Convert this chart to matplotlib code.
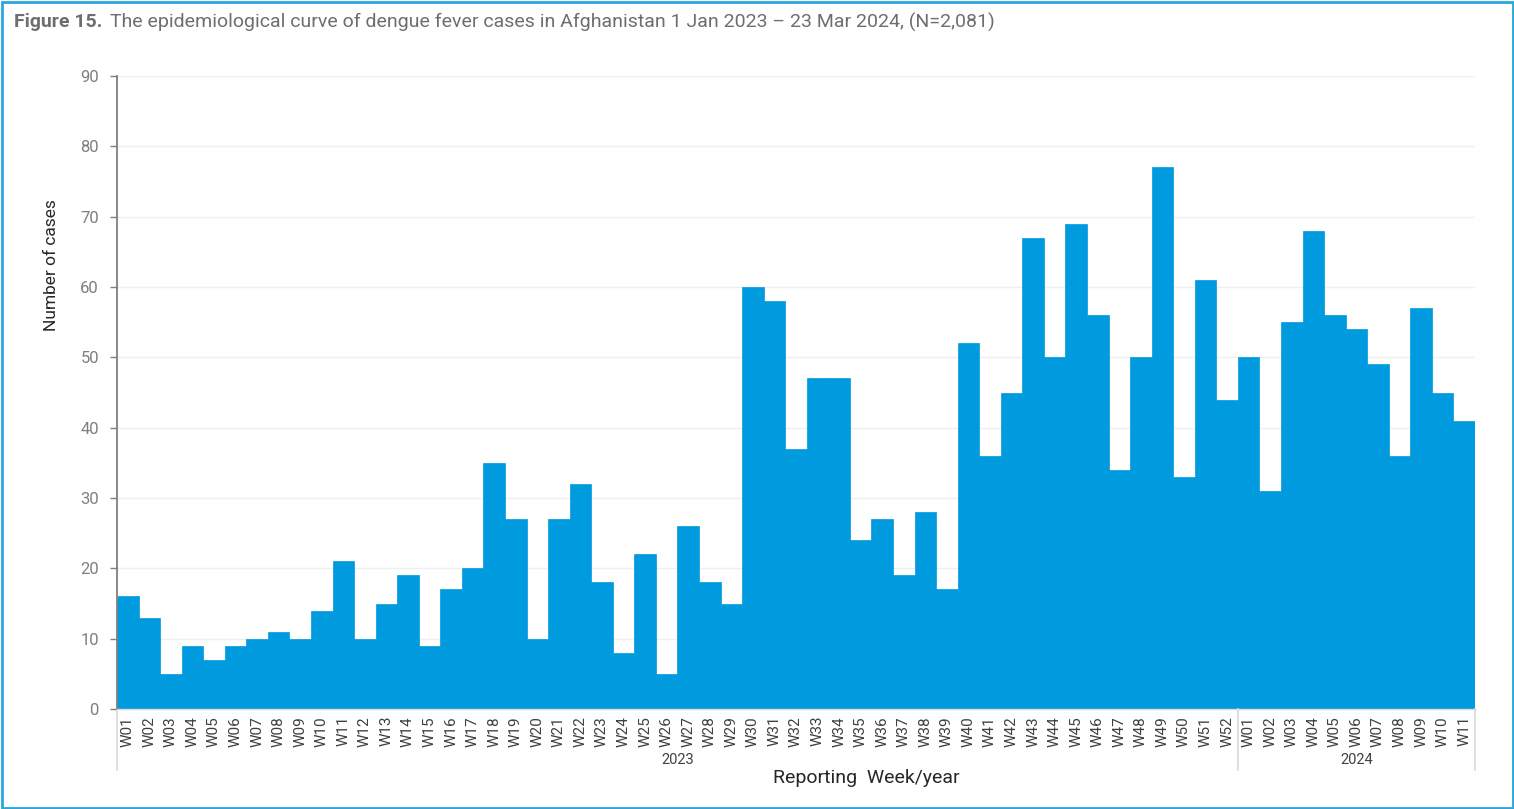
import matplotlib
matplotlib.use("Agg")
import matplotlib.pyplot as plt
from matplotlib.patches import Rectangle
import matplotlib.transforms as mtransforms

plt.rcParams['font.family'] = ['Roboto', 'DejaVu Sans']

weeks_2023 = [f"W{i:02d}" for i in range(1, 53)]
weeks_2024 = [f"W{i:02d}" for i in range(1, 12)]
cases_2023 = [16, 13, 5, 9, 7, 9, 10, 11, 10, 14, 21, 10, 15, 19, 9, 17, 20, 35, 27, 10,
              27, 32, 18, 8, 22, 5, 26, 18, 15, 60, 58, 37, 47, 47, 24, 27, 19, 28, 17, 52,
              36, 45, 67, 50, 69, 56, 34, 50, 77, 33, 61, 44]
cases_2024 = [50, 31, 55, 68, 56, 54, 49, 36, 57, 45, 41]
years = ["2023", "2024"]
yticks = list(range(0, 91, 10))

labels = weeks_2023 + weeks_2024
values = cases_2023 + cases_2024
x = list(range(len(values)))

fig = plt.figure(figsize=(15.14, 8.09), dpi=100)
ax = fig.add_axes([117/1514, 1-709/809, (1475-117)/1514, (709-76)/809])

ax.bar(x, values, width=1.0, color='#009ADE', edgecolor='#009ADE', linewidth=0.5, zorder=2)

ax.set_xlim(-0.5, len(values)-0.5)
ax.set_ylim(0, 90)
ax.set_yticks(yticks)
ax.set_yticklabels([str(v) for v in yticks], fontsize=12, color='#7f7f7f')
ax.yaxis.grid(True, color='#efefef', linewidth=1, zorder=0)
ax.set_axisbelow(True)
ax.tick_params(axis='y', length=5, width=1, color='#7f7f7f', pad=8)

ax.set_xticks(x)
ax.set_xticklabels(labels, rotation=90, fontsize=11, color='#404040')
ax.tick_params(axis='x', length=0, pad=5)

for s in ['top', 'right']:
    ax.spines[s].set_visible(False)
ax.spines['left'].set_color('#7f7f7f')
ax.spines['left'].set_linewidth(1.3)
ax.spines['bottom'].set_color('#d9d9d9')
ax.spines['bottom'].set_linewidth(1)

# group separators and year labels
trans = mtransforms.blended_transform_factory(ax.transData, ax.transAxes)
n23 = len(cases_2023)
n = len(values)
for xs in [-0.5, n23 - 0.5, n - 0.5]:
    ax.plot([xs, xs], [0, -(770-709)/633], transform=trans, color='#d9d9d9',
            linewidth=1.2, clip_on=False)
ax.text((n23 - 1) / 2, -(760-709)/633, years[0], transform=trans, ha='center', va='center',
        fontsize=10.5, color='#404040')
ax.text((n23 + n - 1) / 2, -(760-709)/633, years[1], transform=trans, ha='center', va='center',
        fontsize=10.5, color='#404040')

ax.set_ylabel("Number of cases", fontsize=12.5, color='#262626')
ax.yaxis.set_label_coords(-(117-59)/1358, (709-265)/633)
fig.text(866/1514, 1-778/809, "Reporting  Week/year", ha='center', va='center',
         fontsize=14, color='#262626')

fig.text(14/1514, 1-22/809, "Figure 15.", ha='left', va='center', fontsize=14,
         fontweight='bold', color='#6d6e71')
fig.text(110/1514, 1-22/809,
         "The epidemiological curve of dengue fever cases in Afghanistan 1 Jan 2023 \u2013 23 Mar 2024, (N=2,081)",
         ha='left', va='center', fontsize=14, color='#6d6e71')

fig.patches.append(Rectangle((1.5/1514, 1.5/809), 1-3/1514, 1-3/809, transform=fig.transFigure,
                             fill=False, edgecolor='#2aa6df', linewidth=2))

fig.savefig("out.png", dpi=100)
